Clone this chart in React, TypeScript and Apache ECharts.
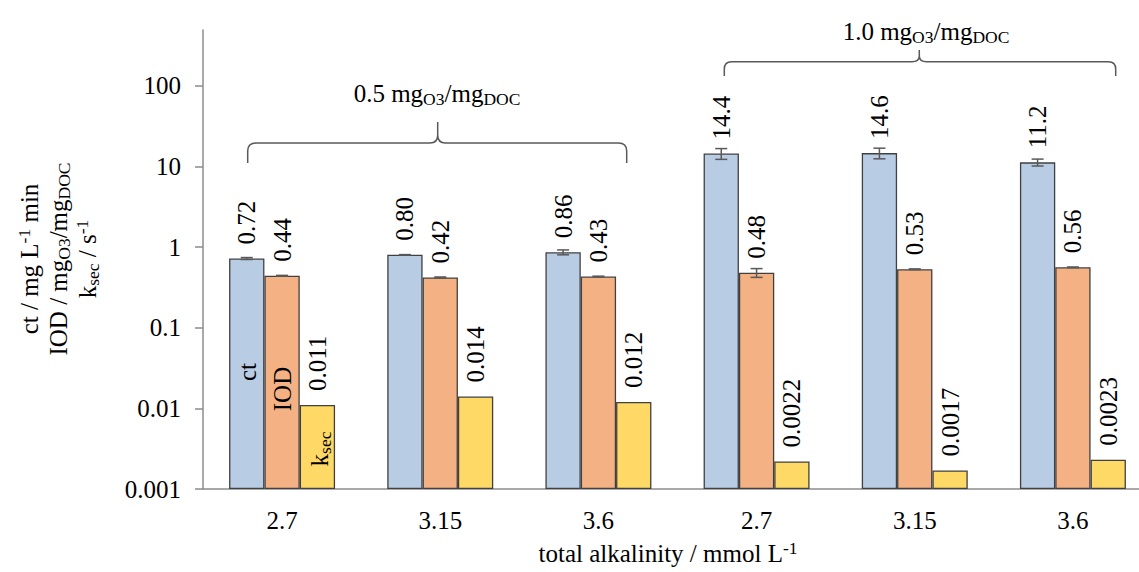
import React, { useEffect, useRef } from 'react';
import * as echarts from 'echarts';

// ---- data ----
const categories = ['2.7', '3.15', '3.6', '2.7', '3.15', '3.6'];
const seriesNames = ['ct', 'IOD', 'ksec'];
const ctValues = [0.72, 0.80, 0.86, 14.4, 14.6, 11.2];
const iodValues = [0.44, 0.42, 0.43, 0.48, 0.53, 0.56];
const ksecValues = [0.011, 0.014, 0.012, 0.0022, 0.0017, 0.0023];
const ctErrors = [0.02, 0.005, 0.06, 2.2, 2.2, 1.1];
const iodErrors = [0.005, 0.005, 0.005, 0.06, 0.005, 0.005];
const yTicks = [0.001, 0.01, 0.1, 1, 10, 100];
const yTickLabels = ['0.001', '0.01', '0.1', '1', '10', '100'];
const doseLabels = ['0.5', '1.0'];

const FONT = 'Liberation Serif';
const COLORS = ['#B8CCE4', '#F4B183', '#FFD966'];
const BORDER = '#404040';
const ERR = '#595959';
const CAT_GAP = 0.33;

echarts.graphic.registerShape(
  'brace1',
  echarts.graphic.extendPath(
    'M247.7 163 L247.7 151 Q247.7 143 256 143 L430 143 Q437.7 143 437.7 135 L437.7 122 M437.7 135 Q437.7 143 445.4 143 L618.4 143 Q626.7 143 626.7 151 L626.7 163',
    {}
  )
);
echarts.graphic.registerShape(
  'brace2',
  echarts.graphic.extendPath(
    'M724.3 76 L724.3 69 Q724.3 61.7 731.5 61.7 L912 61.7 Q919.3 61.7 919.3 56 L919.3 50 M919.3 56 Q919.3 61.7 926.6 61.7 L1108.5 61.7 Q1115.7 61.7 1115.7 69 L1115.7 76',
    {}
  )
);

const fmt = (v: number) => (v < 1 ? v.toPrecision(2) : v.toPrecision(3));

const SMALL = 17.5;
const richBase = {
  n: { fontSize: 25, fontFamily: FONT, color: '#000', lineHeight: 29, verticalAlign: 'middle', align: 'center' },
  sub: { fontSize: SMALL, fontFamily: FONT, color: '#000', lineHeight: SMALL, verticalAlign: 'bottom', align: 'center' },
  sup: { fontSize: SMALL, fontFamily: FONT, color: '#000', lineHeight: SMALL, verticalAlign: 'top', align: 'center' },
};

const makeBar = (name: string, values: number[], color: string) => ({
  type: 'bar',
  name,
  data: values,
  barGap: '0%',
  barCategoryGap: CAT_GAP * 100 + '%',
  itemStyle: { color, borderColor: BORDER, borderWidth: 1.3 },
  label: {
    show: true,
    position: 'top',
    rotate: 90,
    align: 'left',
    verticalAlign: 'middle',
    distance: 14,
    fontSize: 25,
    fontFamily: FONT,
    color: '#000',
    formatter: (p: any) => fmt(p.value),
  },
});

const makeErr = (values: number[], errors: number[], slot: number) => ({
  type: 'custom',
  silent: true,
  z: 10,
  data: values.map((v, i) => [i, v, errors[i]]),
  encode: { x: 0, y: 1 },
  renderItem: (params: any, api: any) => {
    const i = api.value(0);
    const v = api.value(1);
    const e = api.value(2);
    const band = api.size([1, 0], [i, 1])[0];
    const bw = (band * (1 - CAT_GAP)) / 3;
    const c = api.coord([i, v]);
    const cx = c[0] + slot * bw;
    const top = api.coord([i, v + e])[1];
    const bot = api.coord([i, v - e])[1];
    const cap = 6;
    const style = { stroke: ERR, lineWidth: 1.5 };
    return {
      type: 'group',
      children: [
        { type: 'line', shape: { x1: cx, y1: top, x2: cx, y2: bot }, style },
        { type: 'line', shape: { x1: cx - cap, y1: top, x2: cx + cap, y2: top }, style },
        { type: 'line', shape: { x1: cx - cap, y1: bot, x2: cx + cap, y2: bot }, style },
      ],
    };
  },
});

const rotText = (x: number, y: number, text: string) => ({
  type: 'text',
  x,
  y,
  rotation: Math.PI / 2,
  z: 20,
  style: { text, align: 'center', verticalAlign: 'middle', rich: richBase, fontFamily: FONT, fontSize: 25 },
});

const flatText = (x: number, y: number, text: string) => ({
  type: 'text',
  x,
  y,
  z: 20,
  style: { text, align: 'center', verticalAlign: 'middle', rich: richBase, fontFamily: FONT, fontSize: 25 },
});

export default function App() {
  const ref = useRef<HTMLDivElement>(null);
  useEffect(() => {
    if (!ref.current) return;
    const chart = echarts.init(ref.current, undefined, { renderer: 'svg' });
    const option: any = {
      animation: false,
      backgroundColor: '#fff',
      textStyle: { fontFamily: FONT },
      grid: { left: 203, right: -13, top: 30, bottom: 83, containLabel: false, outerBoundsMode: 'none' },
      xAxis: {
        type: 'category',
        data: categories,
        axisLine: { show: true, lineStyle: { color: '#8C8C8C', width: 1.5 } },
        axisTick: { show: false },
        axisLabel: { fontSize: 25, fontFamily: FONT, color: '#000', margin: 19 },
        splitLine: { show: false },
      },
      yAxis: {
        type: 'log',
        logBase: 10,
        min: 0.001,
        max: 490,
        startValue: 0.001,
        axisLine: { show: true, lineStyle: { color: '#8C8C8C', width: 1.5 } },
        axisTick: { show: true, length: 8, lineStyle: { color: '#8C8C8C', width: 1.5 }, customValues: yTicks },
        axisLabel: {
          fontSize: 25,
          fontFamily: FONT,
          color: '#000',
          margin: 22,
          customValues: yTicks,
          formatter: (v: number) => {
            const idx = yTicks.findIndex((t) => Math.abs(Math.log10(t) - Math.log10(v)) < 1e-6);
            return idx >= 0 ? yTickLabels[idx] : '';
          },
        },
        splitLine: { show: false },
        minorTick: { show: false },
      },
      series: [
        makeBar(seriesNames[0], ctValues, COLORS[0]),
        makeBar(seriesNames[1], iodValues, COLORS[1]),
        makeBar(seriesNames[2], ksecValues, COLORS[2]),
        makeErr(ctValues, ctErrors, -1),
        makeErr(iodValues, iodErrors, 0),
      ],
      graphic: [
        rotText(
          58,
          259,
          '{n|ct / mg L}{sup|-1}{n| min}\n{n|IOD / mg}{sub|O3}{n|/mg}{sub|DOC}\n{n|k}{sub|sec}{n| / s}{sup|-1}'
        ),
        flatText(668, 553, '{n|total alkalinity / mmol L}{sup|-1}'),
        { type: 'brace1', x: 0, y: 0, z: 15, style: { stroke: ERR, lineWidth: 1.5, fill: null } },
        { type: 'brace2', x: 0, y: 0, z: 15, style: { stroke: ERR, lineWidth: 1.5, fill: null } },
        flatText(437, 93, '{n|' + doseLabels[0] + ' mg}{sub|O3}{n|/mg}{sub|DOC}'),
        flatText(926, 31, '{n|' + doseLabels[1] + ' mg}{sub|O3}{n|/mg}{sub|DOC}'),
        rotText(247, 372, '{n|' + seriesNames[0] + '}'),
        rotText(282, 389, '{n|' + seriesNames[1] + '}'),
        rotText(319, 449, '{n|k}{sub|sec}'),
      ],
    };
    chart.setOption(option);
    return () => chart.dispose();
  }, []);
  return (
    <div
      ref={ref}
      style={{ position: 'fixed', left: 0, top: 0, width: 1139, height: 572, background: '#fff' }}
    />
  );
}
